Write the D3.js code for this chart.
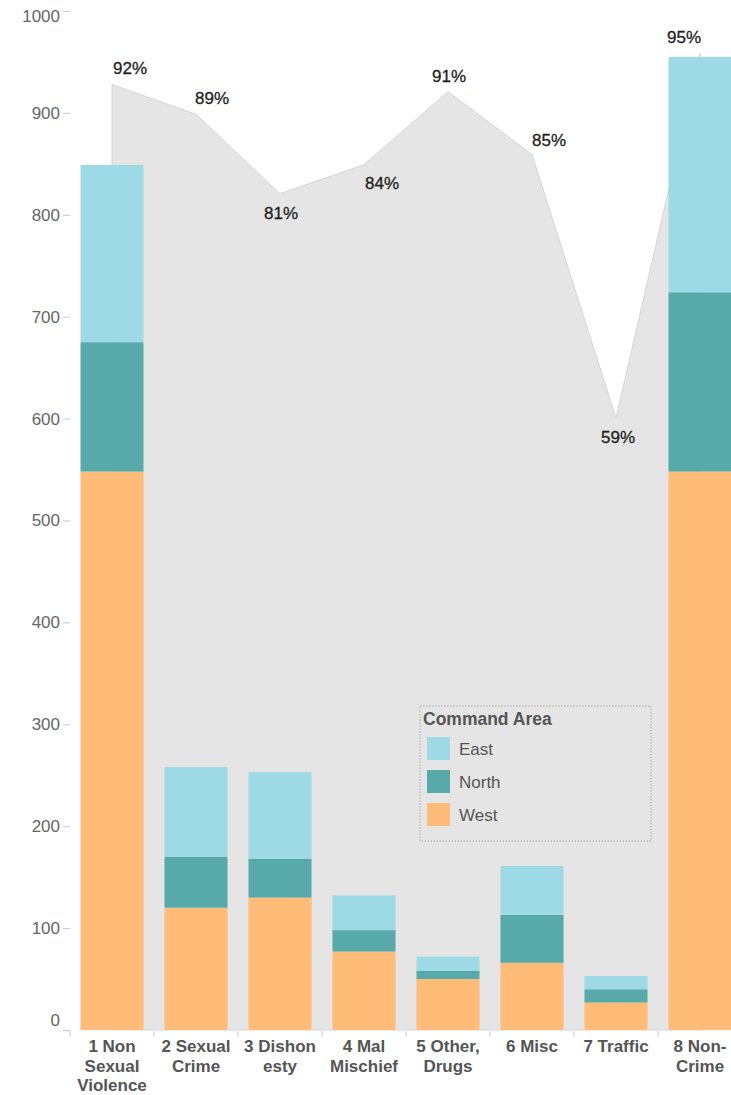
<!DOCTYPE html>
<html>
<head>
<meta charset="utf-8">
<script src="https://cdn.jsdelivr.net/npm/d3@7"></script>
<style>
  body { margin: 0; background: #fff; }
  svg text { font-family: Arial, "Liberation Sans", sans-serif; }
</style>
</head>
<body>
<div id="chart"></div>
<script>
// categories (line breaks as shown under the bars)
var categories = ["1 Non\nSexual\nViolence", "2 Sexual\nCrime", "3 Dishon\nesty", "4 Mal\nMischief",
                  "5 Other,\nDrugs", "6 Misc", "7 Traffic", "8 Non-\nCrime"];
// stacked segments per command area
var westValues  = [548, 120, 130, 77, 50, 66, 27, 548];
var northValues = [127, 50, 38, 21, 8, 47, 13, 176];
var eastValues  = [174, 88, 85, 34, 14, 48, 13, 231];
// share shown by the grey area (secondary axis, 0-100%)
var shareValues = [0.918, 0.889, 0.812, 0.840, 0.911, 0.850, 0.594, 0.948];
var yTicks = [0, 100, 200, 300, 400, 500, 600, 700, 800, 900, 1000];
var areas = ["East", "North", "West"];

var width = 731, height = 1095;
var colors = { East: "#9edae5", North: "#57aaa9", West: "#ffbb78" };
// label placement nudges [dx, dy] relative to each area vertex
var labelNudge = [[18, -17], [16, -16], [1, 19], [18, 18], [1, -16], [17, -15], [2, 19], [-16, -17]];

var svg = d3.select("#chart").append("svg")
    .attr("width", width).attr("height", height);

var x = d3.scaleBand().domain(categories).range([70, 742]).paddingInner(0.25).paddingOuter(0.125),
    y = d3.scaleLinear().domain([0, 1000]).range([1030, 11]),
    yPct = d3.scaleLinear().domain([0, 1]).range([1030, 0]);

var rows = categories.map(function(c, i) {
  return { cat: c, West: westValues[i], North: northValues[i], East: eastValues[i], share: shareValues[i] };
});

// grey share area behind the bars
var area = d3.area()
    .x(function(d) { return x(d.cat) + x.bandwidth() / 2; })
    .y0(y(0))
    .y1(function(d) { return yPct(d.share); });

svg.append("path")
    .datum(rows)
    .attr("d", area)
    .attr("fill", "#e5e5e5")
    .attr("stroke", "#d6d6d6")
    .attr("stroke-width", 1);

// stacked bars
var stack = d3.stack().keys(["West", "North", "East"]);
var series = stack(rows);

svg.append("g").selectAll("g")
  .data(series)
  .enter().append("g")
    .attr("fill", function(d) { return colors[d.key]; })
  .selectAll("rect")
  .data(function(d) { return d; })
  .enter().append("rect")
    .attr("x", function(d) { return x(d.data.cat); })
    .attr("width", x.bandwidth())
    .attr("y", function(d) { return y(d[1]); })
    .attr("height", function(d) { return y(d[0]) - y(d[1]); });

// percentage labels
svg.append("g").selectAll("text")
  .data(rows)
  .enter().append("text")
    .attr("x", function(d, i) { return x(d.cat) + x.bandwidth() / 2 + labelNudge[i][0]; })
    .attr("y", function(d, i) { return yPct(d.share) + labelNudge[i][1]; })
    .attr("dy", "0.36em")
    .attr("text-anchor", "middle")
    .attr("font-size", 17)
    .attr("fill", "#1e1e1e")
    .attr("stroke", "#1e1e1e")
    .attr("stroke-width", 0.3)
    .text(function(d) { return d3.format(".0%")(d.share); });

// y axis
var yAxis = svg.append("g")
    .attr("transform", "translate(70,0)")
    .call(d3.axisLeft(y).tickValues(yTicks).tickFormat(d3.format("d")).tickSize(7).tickPadding(3));
yAxis.select(".domain").remove();
yAxis.selectAll(".tick line").attr("stroke", "#c8c8c8");
yAxis.selectAll(".tick text")
    .attr("font-size", 17)
    .attr("fill", "#666")
    .attr("dy", function(d) { return d === 0 ? "-0.25em" : d === 1000 ? "0.6em" : "0.32em"; });

// x axis: ticks between categories, wrapped labels
var bounds = categories.map(function(c) { return x(c) - x.step() * x.paddingInner() / 2; });
svg.append("g").selectAll("line")
  .data(bounds)
  .enter().append("line")
    .attr("x1", function(d) { return d; }).attr("x2", function(d) { return d; })
    .attr("y1", y(0) + 1).attr("y2", y(0) + 7)
    .attr("stroke", "#c8c8c8");

var xl = svg.append("g").selectAll("text")
  .data(categories)
  .enter().append("text")
    .attr("text-anchor", "middle")
    .attr("font-size", 17)
    .attr("font-weight", "bold")
    .attr("fill", "#555")
    .attr("transform", function(d) { return "translate(" + (x(d) + x.bandwidth() / 2) + "," + 1052 + ")"; });
xl.selectAll("tspan")
  .data(function(d) { return d.split("\n"); })
  .enter().append("tspan")
    .attr("x", 0)
    .attr("y", function(d, i) { return i * 19.5; })
    .text(function(d) { return d; });

// legend
var legend = svg.append("g").attr("transform", "translate(420,706)");
legend.append("rect")
    .attr("width", 231).attr("height", 135)
    .attr("fill", "none")
    .attr("stroke", "#a8a8a8")
    .attr("stroke-dasharray", "1.5,1.5");
legend.append("text")
    .attr("x", 3).attr("y", 19)
    .attr("font-size", 17.5).attr("font-weight", "bold")
    .attr("fill", "#555")
    .text("Command Area");
var item = legend.selectAll(".item")
  .data(areas)
  .enter().append("g")
    .attr("class", "item")
    .attr("transform", function(d, i) { return "translate(7," + (31 + i * 33) + ")"; });
item.append("rect")
    .attr("width", 23).attr("height", 23)
    .attr("fill", function(d) { return colors[d]; });
item.append("text")
    .attr("x", 32).attr("y", 12).attr("dy", "0.35em")
    .attr("font-size", 17)
    .attr("fill", "#555")
    .text(function(d) { return d; });
</script>
</body>
</html>
